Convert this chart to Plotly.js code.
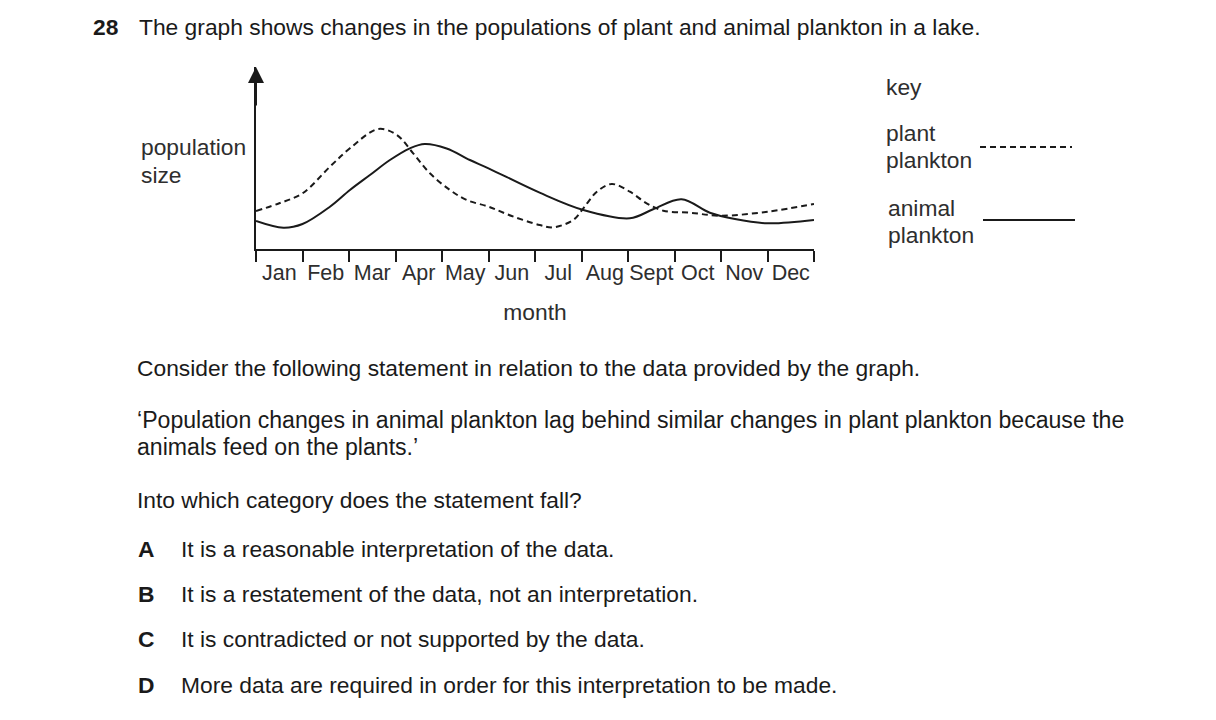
<!DOCTYPE html>
<html>
<head>
<meta charset="utf-8">
<script src="https://cdn.plot.ly/plotly-3.0.1.min.js"></script>
<style>
html,body{margin:0;padding:0;background:#fff;}
#chart{width:1216px;height:720px;}
</style>
</head>
<body>
<div id="chart"></div>
<script>
// ---- data ----
const months = ["Jan","Feb","Mar","Apr","May","Jun","Jul","Aug","Sept","Oct","Nov","Dec"];
const monthCentres = [0.5,1.5,2.5,3.5,4.5,5.5,6.5,7.5,8.5,9.5,10.5,11.5];
const monthBounds = [0,1,2,3,4,5,6,7,8,9,10,11,12];

const plantX = [0, 0.5, 1, 1.59, 2.02, 2.63, 3.03, 3.38, 3.74, 4.17, 4.53, 5, 5.5, 6.1, 6.39, 6.82, 7.04, 7.33, 7.65, 8.04, 8.4, 8.76, 9.33, 10, 11, 12];
const plantY = [38, 45.7, 55.7, 82.3, 100.7, 120, 114, 95.7, 75.7, 59, 49, 42.3, 33, 24, 21.7, 29, 40.7, 57.3, 65, 57.3, 45.7, 38.3, 36.3, 33.3, 37.3, 45];

const animalX = [0, 0.59, 1, 1.59, 2.02, 2.45, 2.88, 3.31, 3.63, 4.1, 4.6, 5, 6.1, 7.04, 8.04, 8.54, 9.15, 9.76, 10.3, 11, 12];
const animalY = [28, 21.3, 25, 42.3, 59, 74, 89, 100.7, 105, 100.5, 89, 80.7, 56.3, 39, 30.7, 39.7, 49.7, 36.3, 30, 25.7, 29];

const titleNum = "28";
const titleText = "The graph shows changes in the populations of plant and animal plankton in a lake.";
const yLabelLines = ["population", "size"];
const xLabel = "month";
const keyTitle = "key";
const plantNameLines = ["plant", "plankton"];
const animalNameLines = ["animal", "plankton"];
const statementIntro = "Consider the following statement in relation to the data provided by the graph.";
const statementLines = [
  "\u2018Population changes in animal plankton lag behind similar changes in plant plankton because the",
  "animals feed on the plants.\u2019"
];
const question = "Into which category does the statement fall?";
const optionLetters = ["A","B","C","D"];
const optionTexts = [
  "It is a reasonable interpretation of the data.",
  "It is a restatement of the data, not an interpretation.",
  "It is contradicted or not supported by the data.",
  "More data are required in order for this interpretation to be made."
];

// ---- layout helpers (pixel -> paper) ----
const W = 1216, H = 720;
const px = x => x / W;
const py = y => 1 - y / H;
const ink = "#1a1a1a";
const grey = "#2e2e2e";
const FONT = "Liberation Sans, Arial, sans-serif";
const FS = 22.8;

const traces = [
  {x: plantX, y: plantY, mode: "lines", name: "plant plankton",
   line: {color: ink, width: 2, dash: "6px,4px", shape: "spline", smoothing: 1}},
  {x: animalX, y: animalY, mode: "lines", name: "animal plankton",
   line: {color: ink, width: 2, shape: "spline", smoothing: 1}}
];

const ann = [];
function txt(text, x, y, color, size) {
  ann.push({text: text, x: px(x), y: py(y), xref: "paper", yref: "paper",
    showarrow: false, xanchor: "left", yanchor: "middle", align: "left",
    font: {family: FONT, size: size || FS, color: color || ink}});
}
txt("<b>" + titleNum + "</b>", 91, 27);
txt(titleText, 137, 27);
txt(yLabelLines[0], 139, 147, grey);
txt(yLabelLines[1], 139, 175, grey);
txt(keyTitle, 884, 87, grey);
txt(plantNameLines[0], 884, 133, grey);
txt(plantNameLines[1], 884, 160, grey);
txt(animalNameLines[0], 886, 208, grey);
txt(animalNameLines[1], 886, 235, grey);
txt(statementIntro, 135, 368);
txt(statementLines[0], 135, 420, ink, 23.1);
txt(statementLines[1], 135, 447, ink, 23.1);
txt(question, 135, 500);
const optY = [549, 594, 639, 685];
optionLetters.forEach((l, i) => {
  txt("<b>" + l + "</b>", 136, optY[i]);
  txt(optionTexts[i], 179, optY[i]);
});

// y axis arrow head
ann.push({x: 0, y: 182, xref: "x", yref: "y", ax: 0, ay: 40, text: "", showarrow: true,
  arrowhead: 2, arrowsize: 1.6, arrowwidth: 2, arrowcolor: ink, standoff: 0});

const shapes = [
  {type: "line", xref: "paper", yref: "paper", x0: px(980), x1: px(1072), y0: py(147), y1: py(147),
   line: {color: ink, width: 2, dash: "6px,4px"}},
  {type: "line", xref: "paper", yref: "paper", x0: px(983), x1: px(1075), y0: py(220), y1: py(220),
   line: {color: ink, width: 2}}
];

const layout = {
  width: W, height: H,
  margin: {l: 0, r: 0, t: 0, b: 0},
  paper_bgcolor: "#fff", plot_bgcolor: "#fff",
  showlegend: false,
  xaxis: {
    domain: [px(256), px(814)], range: [0, 12], anchor: "y",
    showgrid: false, zeroline: false, showline: true, linecolor: ink, linewidth: 2,
    tickmode: "array", tickvals: monthCentres, ticktext: months, ticks: "",
    ticklabelstandoff: 3,
    tickfont: {family: FONT, size: 21.5, color: grey},
    minor: {tickmode: "array", tickvals: monthBounds, ticks: "outside", ticklen: 11, tickwidth: 2, tickcolor: ink, showgrid: false},
    title: {text: xLabel, font: {family: FONT, size: FS, color: grey}, standoff: 20}
  },
  yaxis: {
    domain: [py(249), py(67)], range: [0, 182], anchor: "x",
    showgrid: false, zeroline: false, showline: true, linecolor: ink, linewidth: 2,
    showticklabels: false, ticks: ""
  },
  annotations: ann,
  shapes: shapes
};

Plotly.newPlot("chart", traces, layout, {displayModeBar: false, staticPlot: true});
</script>
</body>
</html>
